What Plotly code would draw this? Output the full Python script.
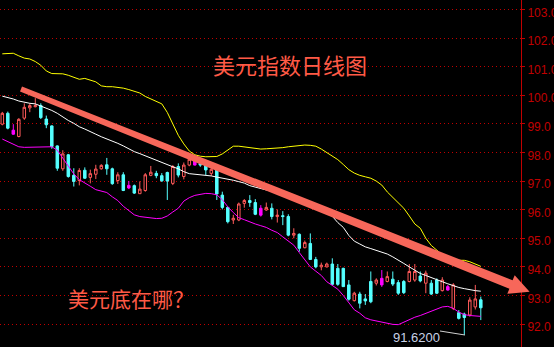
import plotly.graph_objects as go

# ---- data ----
candle_color = list("rcmrrrrccccrccrcrrrccrcmcrrrcc"
                    "crcrrmccrcccrrrccmrcrccrcrccrr"
                    "ccccrcccrmrcccrrcrccrmrccrrcr")
body_top = [99.37, 99.37, 98.78, 99.16, 99.58, 99.64, 99.64, 99.64, 99.17, 98.93,
            98.23, 97.95, 97.92, 97.20, 97.37, 97.38, 97.26, 97.42, 97.55, 97.57,
            97.43, 97.22, 97.22, 96.85, 96.84, 96.72, 97.22, 97.31, 97.27, 97.19,
            97.30, 97.51, 97.51, 97.56, 97.76, 97.74, 97.62, 97.56, 97.41, 97.41,
            96.51, 96.08, 95.70, 96.20, 96.32, 96.32, 96.25, 96.05, 96.08, 96.05,
            95.81, 95.79, 95.76, 95.17, 95.14, 94.85, 94.82, 94.26, 94.06, 94.10,
            94.10, 93.95, 93.95, 93.37, 93.08, 93.05, 92.88, 93.49, 93.54, 93.60,
            93.66, 93.57, 93.45, 93.49, 93.84, 93.84, 93.68, 93.78, 93.43, 93.54,
            93.54, 93.31, 93.37, 92.40, 92.35, 92.84, 92.88, 92.85]
body_bot = [98.99, 98.85, 98.64, 98.56, 99.20, 99.56, 99.60, 99.22, 98.97, 98.21,
            97.45, 97.43, 97.16, 96.99, 97.02, 97.10, 97.13, 97.24, 97.43, 97.43,
            96.91, 97.02, 96.67, 96.76, 96.58, 96.56, 96.67, 97.20, 97.19, 97.01,
            97.00, 96.92, 97.21, 97.16, 97.56, 97.56, 97.56, 97.39, 97.27, 96.55,
            96.08, 95.58, 95.64, 95.64, 96.22, 96.25, 95.84, 95.81, 95.99, 95.76,
            95.76, 95.76, 95.11, 95.11, 94.65, 94.67, 94.26, 94.00, 94.00, 94.00,
            93.39, 93.39, 93.31, 92.87, 92.82, 92.73, 92.81, 92.78, 93.43, 93.37,
            93.49, 93.40, 93.08, 93.10, 93.49, 93.54, 93.51, 93.43, 93.05, 93.08,
            93.17, 93.19, 92.55, 92.20, 92.23, 92.32, 92.60, 92.57]
high = [99.42, 99.43, 98.99, 99.20, 99.72, 99.72, 99.90, 99.72, 99.29, 98.95,
        98.25, 98.08, 97.95, 97.45, 97.45, 97.48, 97.40, 97.57, 97.59, 97.81,
        97.47, 97.31, 97.31, 97.00, 96.88, 96.99, 97.28, 97.53, 97.36, 97.28,
        97.33, 97.56, 97.62, 97.65, 97.86, 97.76, 97.74, 97.68, 97.50, 97.43,
        96.63, 96.10, 95.82, 96.25, 96.37, 96.51, 96.37, 96.16, 96.25, 96.22,
        96.01, 95.95, 95.84, 95.35, 95.17, 94.92, 95.17, 94.35, 94.15, 94.15,
        94.30, 94.10, 93.97, 93.54, 93.13, 93.13, 93.05, 93.84, 93.60, 93.89,
        93.84, 93.84, 93.54, 93.54, 94.10, 94.10, 93.84, 93.87, 93.54, 93.60,
        93.64, 93.37, 93.43, 92.49, 92.40, 92.94, 93.37, 92.96]
low = [98.95, 98.81, 98.62, 98.53, 99.14, 99.41, 99.58, 99.17, 98.85, 98.13,
       97.36, 97.36, 97.12, 96.81, 96.85, 97.08, 96.92, 97.07, 97.40, 97.22,
       96.87, 96.90, 96.65, 96.72, 96.55, 96.55, 96.63, 97.17, 97.10, 96.97,
       96.34, 96.86, 97.13, 97.06, 97.52, 97.55, 97.50, 97.21, 97.18, 96.34,
       96.01, 95.52, 95.50, 95.60, 96.07, 96.10, 95.81, 95.76, 95.96, 95.66,
       95.55, 95.46, 95.07, 95.00, 94.53, 94.65, 94.24, 93.95, 93.88, 93.98,
       93.37, 93.34, 93.30, 92.82, 92.79, 92.55, 92.67, 92.73, 93.35, 93.30,
       93.46, 93.33, 93.02, 93.05, 93.46, 93.48, 93.46, 93.08, 93.02, 93.05,
       93.14, 93.17, 92.49, 92.16, 91.62, 92.26, 92.51, 92.14]

boll_upper = [101.45, 101.46, 101.47, 101.38, 101.30, 101.27, 101.18, 101.05, 100.85, 100.76,
              100.75, 100.75, 100.70, 100.62, 100.56, 100.59, 100.53, 100.47, 100.33, 100.30,
              100.30, 100.28, 100.25, 100.20, 100.14, 100.08, 99.96, 99.88, 99.80, 99.70,
              99.40, 99.00, 98.60, 98.30, 98.05, 97.92, 97.87, 97.85, 97.85, 97.86,
              97.95, 98.08, 98.22, 98.22, 98.20, 98.18, 98.15, 98.12, 98.13, 98.14,
              98.15, 98.17, 98.20, 98.22, 98.25, 98.26, 98.25, 98.22, 98.12, 98.00,
              97.90, 97.75, 97.58, 97.40, 97.28, 97.20, 97.15, 97.10, 97.00, 96.86,
              96.62, 96.42, 96.25, 96.05, 95.78, 95.50, 95.35, 95.00, 94.75, 94.58,
              94.42, 94.32, 94.25, 94.23, 94.23, 94.18, 94.10, 94.02]
boll_mid = [99.97, 99.93, 99.87, 99.80, 99.75, 99.72, 99.70, 99.63, 99.54, 99.47,
            99.37, 99.24, 99.12, 99.02, 98.90, 98.82, 98.74, 98.64, 98.55, 98.48,
            98.39, 98.32, 98.23, 98.13, 98.03, 97.96, 97.88, 97.80, 97.72, 97.64,
            97.56, 97.50, 97.43, 97.33, 97.26, 97.24, 97.22, 97.21, 97.18, 97.14,
            97.11, 97.08, 97.03, 96.98, 96.93, 96.84, 96.79, 96.75, 96.70, 96.65,
            96.60, 96.56, 96.50, 96.44, 96.38, 96.30, 96.20, 96.10, 95.99, 95.88,
            95.77, 95.55, 95.38, 95.10, 94.90, 94.80, 94.70, 94.64, 94.57, 94.52,
            94.45, 94.35, 94.22, 94.12, 94.00, 93.88, 93.77, 93.70, 93.62, 93.55,
            93.48, 93.41, 93.34, 93.28, 93.24, 93.20, 93.17, 93.15]
boll_lower = [98.47, 98.38, 98.30, 98.20, 98.18, 98.18, 98.18, 98.18, 98.20, 98.20,
              98.08, 97.80, 97.55, 97.25, 97.05, 96.92, 96.82, 96.70, 96.65, 96.60,
              96.45, 96.32, 96.12, 95.98, 95.82, 95.76, 95.73, 95.71, 95.69, 95.70,
              95.78, 95.92, 96.05, 96.30, 96.42, 96.50, 96.54, 96.57, 96.56, 96.52,
              96.35, 96.10, 95.90, 95.72, 95.65, 95.57, 95.50, 95.44, 95.38, 95.28,
              95.20, 95.05, 94.92, 94.76, 94.50, 94.26, 94.00, 93.85, 93.70, 93.48,
              93.35, 93.22, 93.00, 92.75, 92.50, 92.38, 92.22, 92.15, 92.11, 92.08,
              92.05, 91.99, 91.98, 92.07, 92.15, 92.24, 92.30, 92.38, 92.45, 92.52,
              92.60, 92.62, 92.55, 92.42, 92.33, 92.30, 92.28, 92.27]

tick_vals = [92.0, 93.0, 94.0, 95.0, 96.0, 97.0, 98.0, 99.0, 100.0, 101.0, 102.0, 103.0]
tick_text = ["%.1f" % v for v in tick_vals]
title_text = "美元指数日线图"
question_text = "美元底在哪？"
low_label = "91.6200"

# ---- styling ----
W, H = 554, 347
ML, MR = 0, 33
PW = W - ML - MR
RED = "#ff5a5a"
CYAN = "#54ffff"
MAG = "#ff00ff"
AXRED = "#c00000"
TXT = "#ff5a46"
ARROW = "#f7675a"

def pp(x, y):
    return x / PW, 1 - y / H

idx = list(range(len(body_top)))
fig = go.Figure()

for code, col, fill in [("r", RED, "#000000"), ("c", CYAN, CYAN), ("m", MAG, MAG)]:
    sel = [i for i in idx if candle_color[i] == code]
    if code == "r":
        o = [body_bot[i] for i in sel]; c = [body_top[i] for i in sel]
    else:
        o = [body_top[i] for i in sel]; c = [body_bot[i] for i in sel]
    fig.add_trace(go.Candlestick(
        x=sel, open=o, close=c,
        high=[high[i] for i in sel], low=[low[i] for i in sel],
        increasing=dict(line=dict(color=col, width=1), fillcolor=fill),
        decreasing=dict(line=dict(color=col, width=1), fillcolor=fill),
        whiskerwidth=0, hoverinfo="skip", showlegend=False))

for vals, col in [(boll_upper, "#ffff00"), (boll_mid, "#ffffff"), (boll_lower, MAG)]:
    fig.add_trace(go.Scatter(x=idx, y=vals, mode="lines",
                             line=dict(color=col, width=1), hoverinfo="skip",
                             showlegend=False))

# arrow (decoration) as a tapered polygon
pts = [(22.0, 86.4), (512.6, 280.3), (514.7, 275.2), (529.6, 291.8),
       (507.3, 293.8), (509.4, 288.7), (20.0, 91.6)]
path = "M " + " L ".join("%.5f,%.5f" % pp(x, y) for x, y in pts) + " Z"
shapes = [dict(type="path", xref="paper", yref="paper", path=path,
               fillcolor=ARROW, line=dict(width=0), layer="above")]
a0 = pp(440, 331); a1 = pp(465, 335)
shapes.append(dict(type="line", xref="paper", yref="paper",
                   x0=a0[0], y0=a0[1], x1=a1[0], y1=a1[1],
                   line=dict(color="#d0d0d0", width=1)))

cjk = "Noto Sans CJK SC"
annotations = [
    dict(text=title_text, xref="paper", yref="paper", x=pp(290, 0)[0], y=pp(0, 64)[1],
         showarrow=False, font=dict(family=cjk, size=22, color=TXT),
         xanchor="center", yanchor="middle"),
    dict(text=question_text, xref="paper", yref="paper", x=pp(131, 0)[0], y=pp(0, 298)[1],
         showarrow=False, font=dict(family=cjk, size=21, color=TXT),
         xanchor="center", yanchor="middle"),
    dict(text=low_label, xref="paper", yref="paper", x=pp(416.5, 0)[0], y=pp(0, 337)[1],
         showarrow=False, font=dict(family="Liberation Sans", size=13, color="#c8d2e6"),
         xanchor="center", yanchor="middle"),
]

fig.update_layout(
    width=W, height=H, margin=dict(l=ML, r=MR, t=0, b=0, pad=0),
    paper_bgcolor="#000000", plot_bgcolor="#000000",
    boxgap=0.35, showlegend=False,
    shapes=shapes, annotations=annotations,
    xaxis=dict(range=[-0.418, 94.31], visible=False, rangeslider=dict(visible=False),
               fixedrange=True),
    yaxis=dict(range=[91.199, 103.332], side="right", tickvals=tick_vals, ticktext=tick_text,
               showgrid=True, gridcolor=AXRED, griddash="1px,3px", gridwidth=1,
               showline=True, linecolor=AXRED, linewidth=1, mirror=False,
               ticks="outside", ticklen=3, tickcolor=AXRED,
               tickfont=dict(family="Liberation Sans", size=12, color=AXRED),
               zeroline=False, automargin=False, fixedrange=True, ticklabelshift=3,
               ticklabeloverflow="allow"),
)

fig.write_html("out.html")
